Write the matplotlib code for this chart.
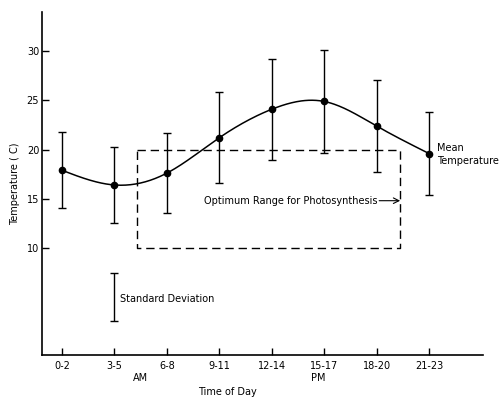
import numpy as np
import matplotlib
matplotlib.use("Agg")
import matplotlib.pyplot as plt
import matplotlib.transforms as mtransforms
from matplotlib import font_manager

# ---- data ----
periods = ["0-2", "3-5", "6-8", "9-11", "12-14", "15-17", "18-20", "21-23"]
mean_temp = [17.9, 16.4, 17.6, 21.2, 24.1, 24.9, 22.4, 19.6]
std_dev = [3.85, 3.9, 4.1, 4.65, 5.15, 5.2, 4.65, 4.2]
y_ticks = [10, 15, 20, 25, 30]
optimum_range = [10, 20]          # temperature range for photosynthesis
optimum_span = [1.43, 6.45]       # period-index span of the box
sd_example = [5.0, 2.4]           # legend example: centre, half-length

names = {f.name for f in font_manager.fontManager.ttflist}
fam = 'Liberation Sans Narrow' if 'Liberation Sans Narrow' in names else 'DejaVu Sans'
plt.rcParams['font.family'] = [fam]
FS = 8.5 if fam != 'DejaVu Sans' else 7.0

def natural_spline(x, y, n=300):
    x = np.asarray(x, float); y = np.asarray(y, float)
    m = len(x); h = np.diff(x)
    A = np.zeros((m, m)); b = np.zeros(m)
    A[0, 0] = A[-1, -1] = 1
    for i in range(1, m - 1):
        A[i, i - 1] = h[i - 1]; A[i, i] = 2 * (h[i - 1] + h[i]); A[i, i + 1] = h[i]
        b[i] = 3 * ((y[i + 1] - y[i]) / h[i] - (y[i] - y[i - 1]) / h[i - 1])
    c = np.linalg.solve(A, b)
    xs = np.linspace(x[0], x[-1], n); ys = np.empty_like(xs)
    for k, xv in enumerate(xs):
        i = min(np.searchsorted(x, xv, side='right') - 1, m - 2)
        dx = xv - x[i]
        bi = (y[i + 1] - y[i]) / h[i] - h[i] * (2 * c[i] + c[i + 1]) / 3
        di = (c[i + 1] - c[i]) / (3 * h[i])
        ys[k] = y[i] + bi * dx + c[i] * dx ** 2 + di * dx ** 3
    return xs, ys

fig = plt.figure(figsize=(4.99, 4.0), dpi=100)
ax = fig.add_axes([0.084, 0.1125, 0.884, 0.8575])

xpos = np.arange(len(periods))
xs, ys = natural_spline(xpos, mean_temp)
ax.plot(xs, ys, color='black', lw=1.1)
ax.errorbar(xpos, mean_temp, yerr=std_dev, fmt='o', color='black', ms=4.5,
            elinewidth=1.0, capsize=3, capthick=1.0)

# dashed optimum box
bx = [optimum_span[0], optimum_span[1], optimum_span[1], optimum_span[0], optimum_span[0]]
by = [optimum_range[1], optimum_range[1], optimum_range[0], optimum_range[0], optimum_range[1]]
ax.plot(bx, by, color='black', lw=1.0, ls=(0, (6, 3.5)))

ax.annotate("", xy=(optimum_span[1], 14.8), xytext=(6.05, 14.8),
            arrowprops=dict(arrowstyle='->', lw=0.8, color='black', shrinkA=0, shrinkB=0))
ax.text(6.02, 14.8, "Optimum Range for Photosynthesis", ha='right', va='center', fontsize=FS)

ax.text(7.16, 19.5, "Mean\nTemperature", ha='left', va='center', fontsize=FS, linespacing=1.3)

# standard deviation example
ax.errorbar([1], [sd_example[0]], yerr=[sd_example[1]], fmt='none', color='black',
            elinewidth=1.0, capsize=3, capthick=1.0)
ax.text(1.11, 4.8, "Standard Deviation", ha='left', va='center', fontsize=FS)

ax.set_xlim(-0.38, 8.03)
ax.set_ylim(-0.9, 34)
ax.set_xticks(xpos)
ax.set_xticklabels(periods, fontsize=FS)
ax.set_yticks(y_ticks)
ax.set_yticklabels([str(t) for t in y_ticks], fontsize=FS)
ax.tick_params(axis='both', direction='in', length=5, width=1.0, pad=2)
ax.tick_params(axis='x', pad=4)
for s in ['top', 'right']:
    ax.spines[s].set_visible(False)
for s in ['left', 'bottom']:
    ax.spines[s].set_linewidth(1.2)

ax.set_ylabel("Temperature ( C)", fontsize=FS)
ax.yaxis.set_label_coords(-0.061, 0.5)
ax.set_xlabel("Time of Day", fontsize=FS)
ax.xaxis.set_label_coords(0.42, -0.108)
ax.xaxis.label.set_va('center')
ax.yaxis.label.set_va('center')

trans = mtransforms.blended_transform_factory(ax.transData, fig.transFigure)
ax.text(1.49, 1 - 378 / 400, "AM", transform=trans, ha='center', va='center', fontsize=FS)
ax.text(4.89, 1 - 378 / 400, "PM", transform=trans, ha='center', va='center', fontsize=FS)

fig.savefig("out.png", dpi=100)
